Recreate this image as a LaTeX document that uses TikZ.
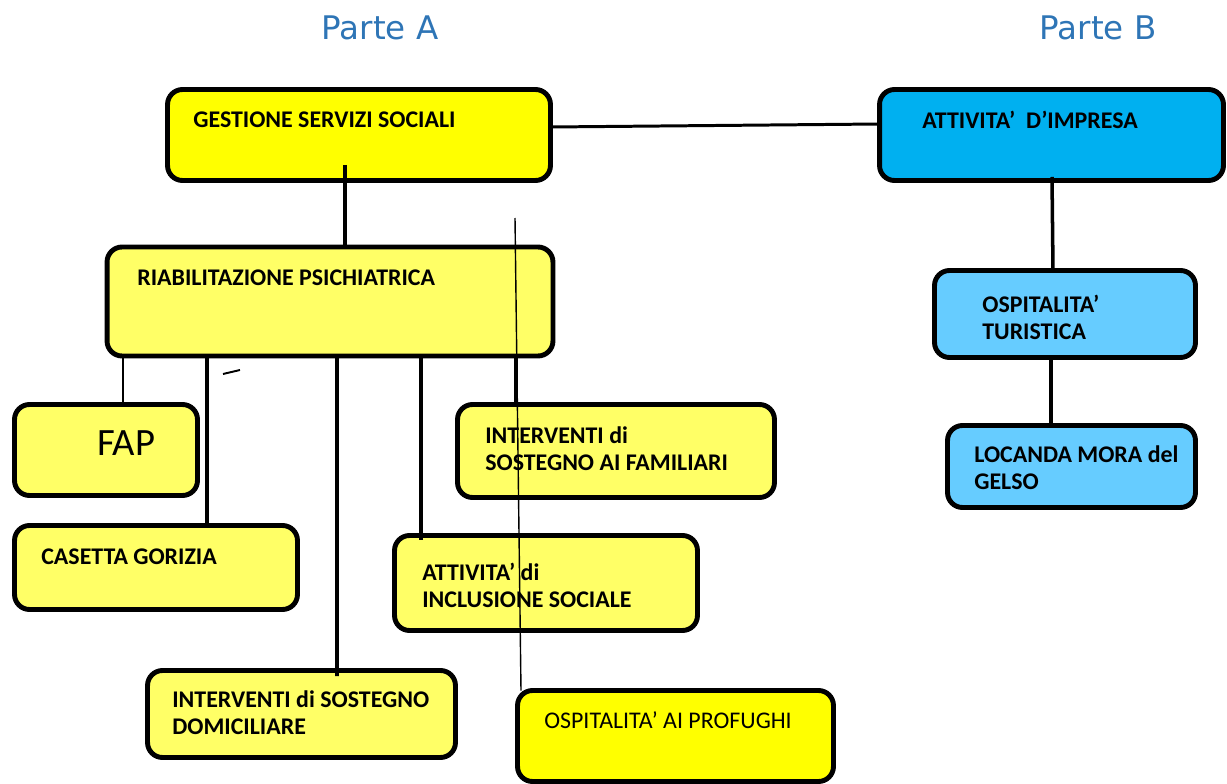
\documentclass[tikz,border=0pt]{standalone}
\usepackage{fontspec}
\setmainfont{Carlito}
\newfontfamily\partefont{DejaVu Sans}
\usetikzlibrary{calc}
\definecolor{yel}{HTML}{FFFF00}
\definecolor{lyel}{HTML}{FFFF66}
\definecolor{blu}{HTML}{00B0F0}
\definecolor{lblu}{HTML}{66CCFF}
\definecolor{parteblue}{HTML}{2E75B6}
\begin{document}
\begin{tikzpicture}[x=0.02cm,y=-0.02cm,
 box/.style={draw=black, line width=2.8pt, rounded corners=0.3cm, inner sep=0pt, outer sep=0pt},
 lbl/.style={anchor=west, inner sep=0pt, align=left, font=\fontsize{13.6}{15.3}\selectfont\bfseries},
 conn/.style={line width=2pt},
 thinconn/.style={line width=1.1pt},
 hair/.style={line width=0.8pt},
 parte/.style={font=\partefont\fontsize{18.5}{22}\selectfont, text=parteblue, inner sep=0pt}]
\useasboundingbox (0,0) rectangle (1227,784);
% titles
\node[parte] (pa) at (380,28) {Parte A};
\node[parte] (pb) at (1098,28) {Parte B};
% boxes
\node[box, fill=yel,  minimum width=7.66cm, minimum height=1.82cm] (gss) at (359,135) {};
\node[box, fill=blu,  minimum width=6.88cm, minimum height=1.82cm] (att) at (1051.5,135) {};
\node[box, fill=lyel, minimum width=8.92cm, minimum height=2.18cm] (riab) at (330,301.5) {};
\node[box, fill=lyel, minimum width=3.66cm, minimum height=1.82cm] (fap) at (106,450) {};
\node[box, fill=lyel, minimum width=5.66cm, minimum height=1.68cm] (cas) at (156,567.5) {};
\node[box, fill=lyel, minimum width=6.34cm, minimum height=1.86cm] (fam) at (616,451) {};
\node[box, fill=lyel, minimum width=6.06cm, minimum height=1.90cm] (inc) at (546,583) {};
\node[box, fill=lyel, minimum width=6.16cm, minimum height=1.74cm] (dom) at (301.5,714) {};
\node[box, fill=yel,  minimum width=6.32cm, minimum height=1.82cm] (prof) at (675.5,736) {};
\node[box, fill=lblu, minimum width=5.22cm, minimum height=1.74cm] (tur) at (1065,314) {};
\node[box, fill=lblu, minimum width=4.96cm, minimum height=1.64cm] (loc) at (1071.5,466.5) {};
% labels
\node[lbl] (tgss) at (193,120) {GESTIONE SERVIZI SOCIALI};
\node[lbl] (tatt) at (922,120) {ATTIVITA’~~D’IMPRESA};
\node[lbl] (triab) at (137,278) {RIABILITAZIONE PSICHIATRICA};
\node[anchor=west, inner sep=0pt, font=\fontsize{22}{26}\selectfont] (tfap) at (97,443) {FAP};
\node[lbl] (tcas) at (41,557) {CASETTA GORIZIA};
\node[lbl] (tfam) at (485,448.5) {INTERVENTI di\\SOSTEGNO AI FAMILIARI};
\node[lbl] (tinc) at (422,585) {ATTIVITA’ di\\INCLUSIONE SOCIALE};
\node[lbl] (tdom) at (172,712.5) {INTERVENTI di SOSTEGNO\\DOMICILIARE};
\node[lbl, font=\fontsize{13.6}{15.3}\selectfont] (tprof) at (544,720) {OSPITALITA’ AI PROFUGHI};
\node[lbl] (ttur) at (982,317) {OSPITALITA’\\TURISTICA};
\node[lbl] (tloc) at (974,468) {LOCANDA MORA del\\GELSO};
% connectors
\draw[line width=1.7pt] ($(gss.east)+(0,-8)$) -- ($(att.west)+(0,-11)$);
\draw[conn] ($(gss.south)+(-14,-15.5)$) -- ($(riab.north)+(15,0)$);
\draw[thinconn] ($(riab.south)+(-207,0)$) -- ($(fap.north)+(17,0)$);
\draw[conn] ($(riab.south)+(-123,0)$) -- ($(cas.north)+(51,1.5)$);
\draw[conn] ($(riab.south)+(7,0)$) -- ($(dom.north)+(35.5,5.5)$);
\draw[conn] ($(riab.south)+(91,0)$) -- ($(inc.north)+(-125,4.5)$);
\draw[conn] ($(riab.south)+(186,0)$) -- ($(fam.north)+(-100,0)$);
\draw[conn] ($(att.south)+(0.5,-3.5)$) -- ($(tur.north)+(-12,0)$);
\draw[conn] ($(tur.south)+(-14,0)$) -- ($(loc.north)+(-20.5,0)$);
% stray mark
\draw[line width=1.1pt] (223,374) -- (240,370);
% thin long line drawn over the boxes
\coordinate (ltop) at (515,218);
\draw[hair] (ltop) -- ($(prof.north)+(-154.5,0)$);
\end{tikzpicture}
\end{document}
